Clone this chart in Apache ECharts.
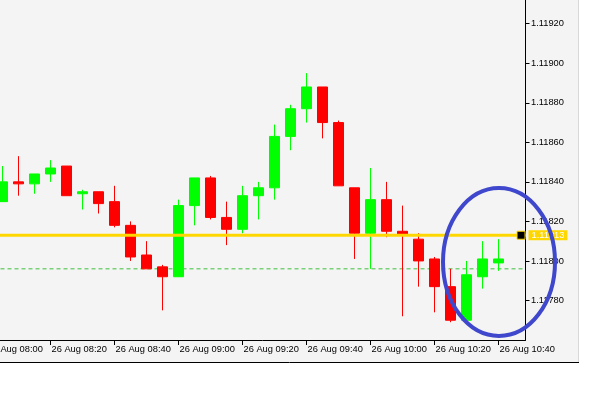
<!DOCTYPE html>
<html>
<head>
<meta charset="utf-8">
<script src="https://cdn.jsdelivr.net/npm/echarts@6/dist/echarts.min.js"></script>
<style>
html,body{margin:0;padding:0;background:#fff;}
#c{width:601px;height:394px;}
</style>
</head>
<body>
<div id="c"></div>
<script>
// M5 candles, 26 Aug
const times = ['08:05','08:10','08:15','08:20','08:25','08:30','08:35','08:40','08:45','08:50','08:55',
  '09:00','09:05','09:10','09:15','09:20','09:25','09:30','09:35','09:40','09:45','09:50','09:55',
  '10:00','10:05','10:10','10:15','10:20','10:25','10:30','10:35','10:40'];
const open  = [1.11830,1.11840,1.11839,1.11844,1.11848,1.11834,1.11835,1.11830,1.11818,1.11803,1.11797,
  1.11792,1.11828,1.11842,1.11822,1.11816,1.11833,1.11837,1.11863,1.11877,1.11888,1.11870,1.11837,
  1.11814,1.11831,1.11815,1.11811,1.11801,1.11787,1.11770,1.11792,1.11799];
const close = [1.11840,1.11839,1.11844,1.11847,1.11833,1.11835,1.11829,1.11818,1.11802,1.11796,1.11792,
  1.11828,1.11842,1.11822,1.11816,1.11833,1.11837,1.11863,1.11877,1.11888,1.11870,1.11838,1.11814,
  1.11831,1.11815,1.11813,1.11800,1.11787,1.11770,1.11793,1.11801,1.11801];
const high  = [1.11848,1.11853,1.11844,1.11851,1.11848,1.11836,1.11835,1.11838,1.11820,1.11810,1.11798,
  1.11831,1.11842,1.11843,1.11830,1.11838,1.11840,1.11869,1.11879,1.11895,1.11888,1.11871,1.11837,
  1.11847,1.11840,1.11828,1.11814,1.11802,1.11796,1.11800,1.11810,1.11811];
const low   = [1.11830,1.11833,1.11834,1.11840,1.11833,1.11826,1.11824,1.11817,1.11800,1.11796,1.11775,
  1.11792,1.11818,1.11821,1.11808,1.11814,1.11821,1.11831,1.11856,1.11870,1.11862,1.11838,1.11801,
  1.11796,1.11812,1.11772,1.11787,1.11774,1.11769,1.11770,1.11786,1.11795];

const hLinePrice = 1.11813;   // yellow horizontal line
const askPrice = 1.11796;     // dashed line
const yTicks = [1.11780,1.11800,1.11820,1.11840,1.11860,1.11880,1.11900,1.11920];

const dateLabel = '26 Aug ';
const xMin = 0, xMax = 168.4375, yMin = 1.1176, yMax = 1.11932;

function toMin(t){ const p = t.split(':'); return (parseInt(p[0],10)-8)*60 + parseInt(p[1],10); }
function pad(n){ return (n<10?'0':'')+n; }

const candles = times.map((t,i)=>[toMin(t), open[i], close[i], low[i], high[i]]);

const FONT = 'Liberation Sans';
const chart = echarts.init(document.getElementById('c'), null, {renderer:'canvas'});
chart.setOption({
  animation:false,
  backgroundColor:'#f4f4f4',
  grid:{left:-13.5, right:75.5, top:0, bottom:54, containLabel:false, outerBoundsMode:'none'},
  xAxis:{
    type:'value', min:xMin, max:xMax, interval:20,
    axisLine:{show:true, onZero:false, lineStyle:{color:'#000', width:1}},
    axisTick:{show:true, length:5, lineStyle:{color:'#000'}},
    splitLine:{show:false},
    axisLabel:{
      show:true, align:'left', margin:5, padding:[0,0,0,1],
      color:'#000', fontFamily:FONT, fontSize:9.3,
      showMaxLabel:false, showMinLabel:true, hideOverlap:false,
      formatter:function(v){
        if (Math.abs(v % 20) > 1e-6) return '';
        const h = 8 + Math.floor(v/60), m = Math.round(v % 60);
        return dateLabel + pad(h) + ':' + pad(m);
      }
    }
  },
  yAxis:{
    type:'value', position:'right', min:yMin, max:yMax, interval:0.0002,
    axisLine:{show:true, onZero:false, lineStyle:{color:'#000', width:1}},
    axisTick:{show:true, length:4, lineStyle:{color:'#000'}},
    splitLine:{show:false},
    axisLabel:{
      show:true, margin:5.5, color:'#000', fontFamily:FONT, fontSize:9.3,
      showMinLabel:false, showMaxLabel:false,
      formatter:function(v){
        for (const t of yTicks){ if (Math.abs(t - v) < 1e-8) return t.toFixed(5); }
        return '';
      }
    }
  },
  series:[
    {
      type:'line', z:1, silent:true,
      data:[[xMin, askPrice],[xMax, askPrice]],
      symbol:'none',
      lineStyle:{color:'#3cbf3c', width:1, type:[4,3]}
    },
    {
      type:'candlestick', z:2,
      data:candles,
      encode:{x:0, y:[1,2,3,4]},
      barWidth:10,
      itemStyle:{color:'#00ff00', color0:'#ff0000', borderColor:'#00ff00', borderColor0:'#ff0000', borderWidth:1}
    },
    {
      type:'line', z:5, silent:true,
      data:[[xMin, hLinePrice],[xMax, hLinePrice]],
      symbol:'none',
      lineStyle:{color:'#ffd700', width:3, type:'solid'},
      endLabel:{
        show:true, distance:3,
        formatter:function(){ return hLinePrice.toFixed(5); },
        backgroundColor:'#ffd700', color:'#ffffff',
        fontFamily:FONT, fontSize:9.3, padding:[1,3,0,3]
      }
    },
    {
      type:'scatter', z:6, silent:true,
      data:[[xMax-1.4, hLinePrice]],
      symbol:'rect', symbolSize:8,
      itemStyle:{color:'#000', borderColor:'#ffd700', borderWidth:1, opacity:1}
    }
  ],
  graphic:[
    {type:'rect', z:50, silent:true, shape:{x:579, y:0, width:22, height:394}, style:{fill:'#ffffff'}},
    {type:'rect', z:50, silent:true, shape:{x:0, y:363, width:601, height:31}, style:{fill:'#ffffff'}},
    {type:'line', z:51, silent:true, shape:{x1:578.5, y1:0, x2:578.5, y2:363}, style:{stroke:'#d8d8d8', lineWidth:1}},
    {type:'line', z:51, silent:true, shape:{x1:0, y1:362.5, x2:579, y2:362.5}, style:{stroke:'#000', lineWidth:1}},
    {type:'ellipse', z:100, silent:true, shape:{cx:499, cy:262, rx:56, ry:74},
      style:{fill:null, stroke:'#3f48cc', lineWidth:4}}
  ]
});
</script>
</body>
</html>
